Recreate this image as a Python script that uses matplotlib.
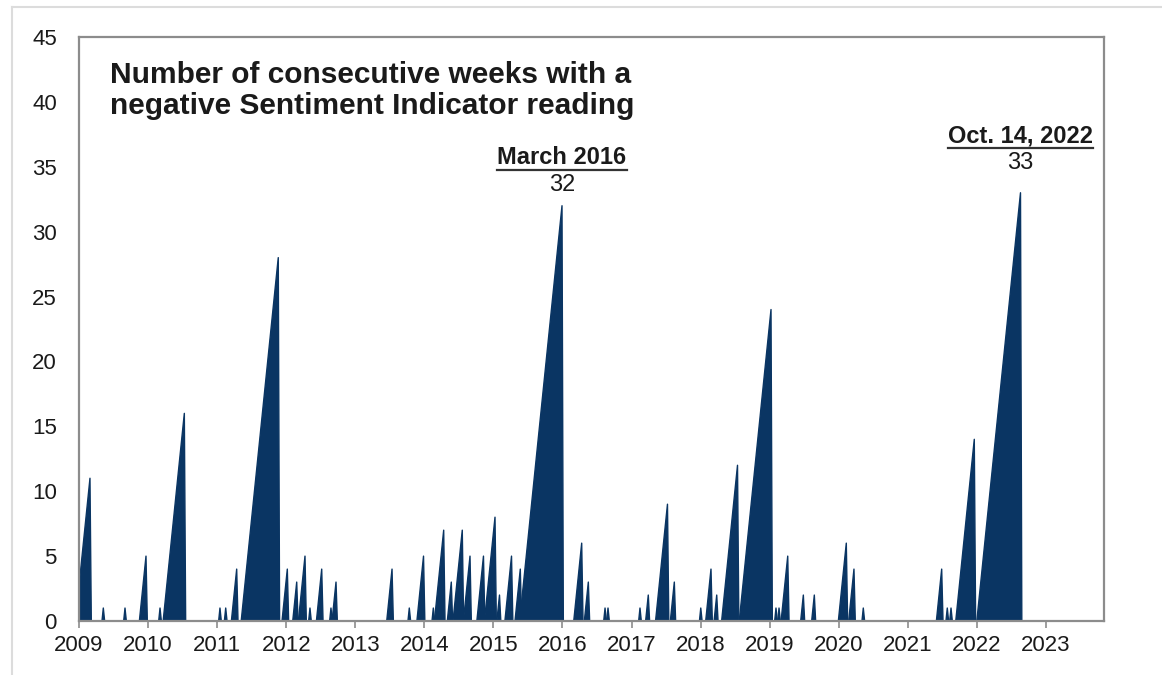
import matplotlib.pyplot as plt
from matplotlib.lines import Line2D

# each run of consecutive negative weeks: week of the last reading (decimal year)
# and how many weeks the run lasted
run_end = [2009.159, 2009.352, 2009.666, 2009.970, 2010.173, 2010.525,
           2011.041, 2011.124, 2011.283, 2011.885,
           2012.016, 2012.152, 2012.272, 2012.344, 2012.514, 2012.648, 2012.721,
           2013.532, 2013.782, 2013.988,
           2014.130, 2014.280, 2014.390, 2014.549, 2014.661, 2014.856,
           2015.023, 2015.088, 2015.262, 2015.389, 2015.993,
           2016.278, 2016.374, 2016.616, 2016.659,
           2017.122, 2017.242, 2017.520, 2017.619,
           2018.002, 2018.150, 2018.233, 2018.534,
           2019.019, 2019.091, 2019.135, 2019.261, 2019.487, 2019.646,
           2020.109, 2020.220, 2020.355,
           2021.490, 2021.571, 2021.625, 2021.962, 2022.631]
run_weeks = [11, 1, 1, 5, 1, 16,
             1, 1, 4, 28,
             4, 3, 5, 1, 4, 1, 3,
             4, 1, 5,
             1, 7, 3, 7, 5, 5,
             8, 2, 5, 4, 32,
             6, 3, 1, 1,
             1, 2, 9, 3,
             1, 4, 2, 12,
             24, 1, 1, 5, 2, 2,
             6, 4, 1,
             4, 1, 1, 14, 33]

years = list(range(2009, 2024))

# the two record runs that get a label: run index, heading, value text,
# and how far above the peak the value / heading sit (in weeks)
callouts = [(30, "March 2016", "32", 1.6, 3.7),
            (56, "Oct. 14, 2022", "33", 2.3, 4.4)]

navy = "#0a3563"
frame_gray = "#8c8c8c"
wk = 7 / 365.25

plt.rcParams['font.family'] = ['Liberation Sans', 'DejaVu Sans']

fig = plt.figure(figsize=(11.62, 6.75), dpi=100)
W, H = 1162, 675
ax = fig.add_axes([79 / W, 1 - 621 / H, (1104 - 79) / W, (621 - 37) / H])

# every run climbs one step per week, then falls back to zero the week after
for end, n in zip(run_end, run_weeks):
    ax.fill([end - n * wk, end, end + wk], [0, n, 0], facecolor=navy,
            edgecolor=navy, lw=1.0, joinstyle='round')

ax.set_xlim(2009, 2023.84)
ax.set_ylim(0, 45)
ax.set_yticks(range(0, 46, 5))
ax.set_xticks(years)
ax.set_xticklabels([str(y) for y in years])

for s in ax.spines.values():
    s.set_color(frame_gray)
    s.set_linewidth(1.6)
    s.set_zorder(3)

ax.tick_params(axis='y', length=0, pad=16, labelsize=16, labelcolor='#1a1a1a')
ax.tick_params(axis='x', length=5, width=1.2, color=frame_gray, direction='out',
               pad=5, labelsize=16, labelcolor='#1a1a1a')

fig.text(110 / W, 1 - 61 / H,
         "Number of consecutive weeks with a\nnegative Sentiment Indicator reading",
         fontsize=21.5, fontweight='bold', color='#1a1a1a', va='top', ha='left',
         linespacing=1.12)

heads = []
for idx, head, val, dv, dh in callouts:
    xp = run_end[idx]
    n = run_weeks[idx]
    ax.text(xp, n + dv, val, ha='center', va='center', fontsize=17,
            color='#1a1a1a')
    t = ax.text(xp, n + dh, head, ha='center', va='center', fontsize=17,
                fontweight='bold', color='#1a1a1a')
    heads.append(t)

# underline the callout headings
fig.canvas.draw()
r = fig.canvas.get_renderer()
for t in heads:
    bb = t.get_window_extent(renderer=r)
    yl = (bb.y0 - 1) / fig.bbox.height
    fig.add_artist(Line2D([bb.x0 / fig.bbox.width, bb.x1 / fig.bbox.width], [yl, yl],
                          color='#333333', lw=1.6))

# light border around the whole graphic
fig.add_artist(Line2D([12 / W, 1], [1 - 7 / H, 1 - 7 / H], color='#dcdcdc', lw=1.5))
fig.add_artist(Line2D([12 / W, 12 / W], [0, 1 - 7 / H], color='#dcdcdc', lw=1.5))

fig.savefig("out.png", dpi=100)
